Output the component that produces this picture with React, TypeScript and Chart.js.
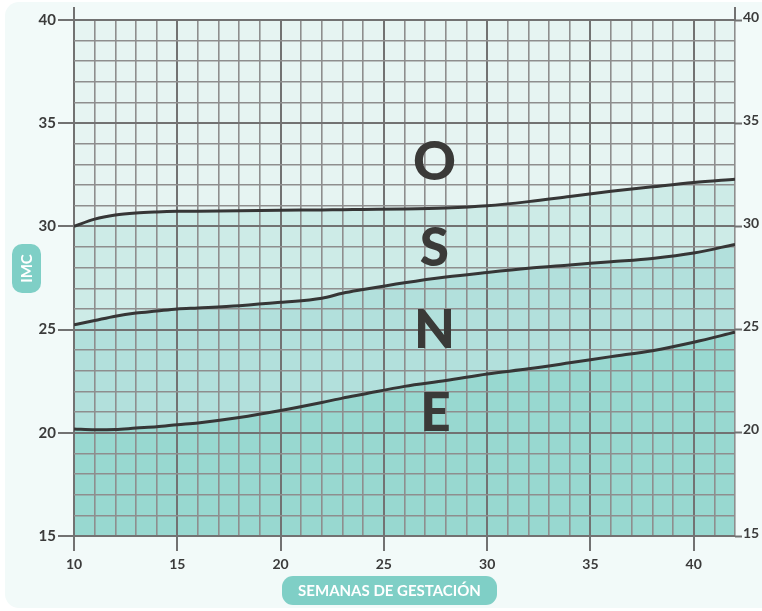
import React, { useEffect, useRef } from "react";
import { Chart, registerables } from "chart.js";

const zoneBackground = {
  id: "zoneBackground",
  beforeDraw(chart: any) {
    const ctx: CanvasRenderingContext2D = chart.ctx;
    const { left, right, top, bottom } = chart.chartArea;
    ctx.save();
    ctx.fillStyle = "#e6f4f2";
    ctx.fillRect(left, top, right - left, bottom - top);
    ctx.restore();
  },
};

Chart.register(zoneBackground);
Chart.register(...registerables);

const weeks = [10, 11, 12, 13, 14, 15, 16, 18, 20, 22, 23, 24, 26, 28, 30, 32, 34, 36, 38, 40, 42];
const limitObesidad = [30.0, 30.35, 30.55, 30.65, 30.7, 30.73, 30.74, 30.76, 30.78, 30.8, 30.81, 30.82, 30.84, 30.89, 31.0, 31.2, 31.45, 31.7, 31.92, 32.13, 32.29];
const limitSobrepeso = [25.23, 25.44, 25.65, 25.8, 25.9, 26.0, 26.05, 26.16, 26.32, 26.52, 26.76, 26.94, 27.27, 27.55, 27.77, 27.97, 28.13, 28.29, 28.45, 28.71, 29.13];
const limitNormal = [20.19, 20.15, 20.16, 20.23, 20.29, 20.39, 20.48, 20.74, 21.08, 21.47, 21.68, 21.87, 22.25, 22.53, 22.85, 23.1, 23.39, 23.69, 23.98, 24.39, 24.87];

const zoneLetters = ["O", "S", "N", "E"];
const letterX = [27.45, 27.45, 27.45, 27.5];
const letterY = [33.13, 28.98, 24.98, 20.94];

const yAxisTitle = "IMC";
const xAxisTitle = "SEMANAS DE GESTACIÓN";

const xMin = 10;
const xMax = 42;
const yMin = 15;
const yMax = 40;

const toPts = (vals: number[]) => weeks.map((w, i) => ({ x: w, y: vals[i] }));

function pill(ctx: CanvasRenderingContext2D, x: number, y: number, w: number, h: number, r: number) {
  ctx.beginPath();
  ctx.moveTo(x + r, y);
  ctx.lineTo(x + w - r, y);
  ctx.arcTo(x + w, y, x + w, y + r, r);
  ctx.lineTo(x + w, y + h - r);
  ctx.arcTo(x + w, y + h, x + w - r, y + h, r);
  ctx.lineTo(x + r, y + h);
  ctx.arcTo(x, y + h, x, y + h - r, r);
  ctx.lineTo(x, y + r);
  ctx.arcTo(x, y, x + r, y, r);
  ctx.closePath();
}

const FONT = "Lato, 'Open Sans', sans-serif";
const MAJOR = "#727272";
const MINOR = "#8e8e8e";

export default function App() {
  const ref = useRef<HTMLCanvasElement | null>(null);

  useEffect(() => {
    if (!ref.current) return;
    const isMajor = (v: number) => Math.abs(v % 5) < 1e-6;

    const overlay = {
      id: "overlay",
      afterDraw(chart: any) {
        const ctx: CanvasRenderingContext2D = chart.ctx;
        const { left, right, top } = chart.chartArea;
        const xs = chart.scales.x;
        const ys = chart.scales.y;
        ctx.save();
        ctx.strokeStyle = MAJOR;
        ctx.lineWidth = 2;
        ctx.beginPath();
        ctx.moveTo(left, top - 13);
        ctx.lineTo(left, top);
        ctx.moveTo(right, top - 13);
        ctx.lineTo(right, top);
        ctx.stroke();

        ctx.fillStyle = "#3a3a38";
        ctx.font = `900 53px ${FONT}`;
        ctx.textAlign = "center";
        ctx.textBaseline = "middle";
        zoneLetters.forEach((l, i) => {
          ctx.fillText(l, xs.getPixelForValue(letterX[i]), ys.getPixelForValue(letterY[i]) + 1);
        });

        const pc = "#7fcfc6";
        ctx.fillStyle = pc;
        pill(ctx, 12, 244, 29, 49, 10);
        ctx.fill();
        ctx.save();
        ctx.translate(26.5, 268.5);
        ctx.rotate(-Math.PI / 2);
        ctx.fillStyle = "#ffffff";
        ctx.font = `bold 15px ${FONT}`;
        ctx.textAlign = "center";
        ctx.textBaseline = "middle";
        ctx.fillText(yAxisTitle, 0, 1);
        ctx.restore();

        ctx.fillStyle = pc;
        pill(ctx, 282, 576, 215, 29, 11);
        ctx.fill();
        ctx.fillStyle = "#ffffff";
        ctx.font = `bold 15px ${FONT}`;
        ctx.textAlign = "center";
        ctx.textBaseline = "middle";
        ctx.fillText(xAxisTitle, 389.5, 591);
        ctx.restore();
      },
    };

    const lineColor = "#363636";
    const chart = new Chart(ref.current, {
      type: "line",
      data: {
        datasets: [
          {
            data: toPts(limitNormal),
            borderColor: lineColor,
            borderWidth: 3,
            pointRadius: 0,
            fill: "start",
            backgroundColor: "#98d8d0",
          },
          {
            data: toPts(limitSobrepeso),
            borderColor: lineColor,
            borderWidth: 3,
            pointRadius: 0,
            fill: "start",
            backgroundColor: "#b2e0dc",
          },
          {
            data: toPts(limitObesidad),
            borderColor: lineColor,
            borderWidth: 3,
            pointRadius: 0,
            fill: "start",
            backgroundColor: "#cdebe7",
          },
        ],
      },
      options: {
        animation: false,
        responsive: false,
        events: [],
        layout: { padding: { top: 20, left: 0, right: 0, bottom: 0 } },
        elements: { line: { tension: 0.4, cubicInterpolationMode: "monotone" } },
        plugins: {
          legend: { display: false },
          tooltip: { enabled: false },
          filler: { drawTime: "beforeDraw" },
        } as any,
        scales: {
          x: {
            type: "linear",
            min: xMin,
            max: xMax,
            afterFit(s: any) {
              s.height = 75;
            },
            border: { display: false },
            grid: {
              color: (c: any) => (isMajor(c.tick.value) ? MAJOR : MINOR),
              lineWidth: (c: any) => (isMajor(c.tick.value) ? 2 : 1.6),
              tickColor: (c: any) => (isMajor(c.tick.value) ? MAJOR : "rgba(0,0,0,0)"),
              tickLength: 15,
              tickWidth: 2,
            } as any,
            ticks: {
              stepSize: 1,
              autoSkip: false,
              maxRotation: 0,
              padding: 5,
              color: "#3b3b3b",
              font: { family: FONT, weight: "bold", size: 14 },
              callback: (v: any) => (isMajor(Number(v)) ? String(v) : ""),
            },
          },
          y: {
            type: "linear",
            position: "left",
            min: yMin,
            max: yMax,
            afterFit(s: any) {
              s.width = 74;
            },
            border: { display: false },
            grid: {
              color: (c: any) => (isMajor(c.tick.value) ? MAJOR : MINOR),
              lineWidth: (c: any) => (isMajor(c.tick.value) ? 2 : 1.6),
              tickColor: (c: any) => (isMajor(c.tick.value) ? MAJOR : "rgba(0,0,0,0)"),
              tickLength: 16,
              tickWidth: 2,
            } as any,
            ticks: {
              stepSize: 1,
              autoSkip: false,
              padding: 2,
              color: "#3b3b3b",
              font: { family: FONT, weight: "bold", size: 15 },
              callback: (v: any) => (isMajor(Number(v)) ? String(v) : ""),
            },
          },
          y2: {
            type: "linear",
            position: "right",
            min: yMin,
            max: yMax,
            afterFit(s: any) {
              s.width = 27;
            },
            border: { display: false },
            grid: {
              drawOnChartArea: false,
              tickColor: (c: any) => (isMajor(c.tick.value) ? MAJOR : "rgba(0,0,0,0)"),
              tickLength: 7,
              tickWidth: 2,
            } as any,
            ticks: {
              stepSize: 1,
              autoSkip: false,
              padding: 1,
              labelOffset: -3,
              color: "#3b3b3b",
              font: { family: FONT, weight: "bold", size: 14 },
              callback: (v: any) => (isMajor(Number(v)) ? String(v) : ""),
            },
          },
        },
      } as any,
      plugins: [overlay],
    });
    return () => chart.destroy();
  }, []);

  return (
    <div style={{ position: "fixed", left: 0, top: 0, width: 762, height: 611, background: "#ffffff", overflow: "hidden" }}>
      <div
        style={{
          position: "absolute",
          left: 5,
          top: 2,
          width: 790,
          height: 606,
          background: "#f2faf9",
          borderRadius: 14,
        }}
      />
      <canvas ref={ref} width={762} height={611} style={{ position: "absolute", left: 0, top: 0, width: 762, height: 611 }} />
    </div>
  );
}
